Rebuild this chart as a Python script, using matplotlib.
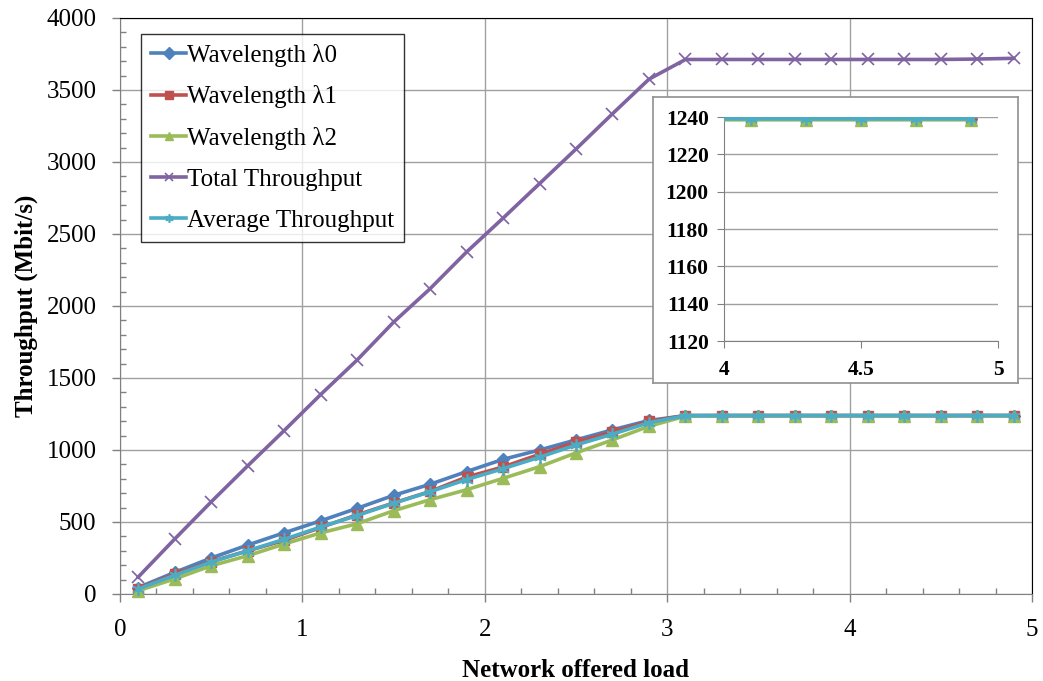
import matplotlib
matplotlib.use("Agg")
import matplotlib.pyplot as plt
from matplotlib.ticker import MultipleLocator

plt.rcParams['font.family'] = ['Liberation Serif', 'DejaVu Serif']

load = [0.1, 0.3, 0.5, 0.7, 0.9, 1.1, 1.3, 1.5, 1.7, 1.9, 2.1, 2.3, 2.5,
        2.7, 2.9, 3.1, 3.3, 3.5, 3.7, 3.9, 4.1, 4.3, 4.5, 4.7, 4.9]
lam0 = [45, 150, 250, 340, 425, 508, 595, 685, 762, 850, 935, 1000, 1070,
        1140, 1205, 1239, 1239, 1239, 1239, 1239, 1239, 1239, 1239, 1239, 1239]
lam1 = [38, 138, 225, 300, 372, 462, 550, 632, 712, 812, 882, 970, 1055,
        1125, 1198, 1239, 1239, 1239, 1239, 1239, 1239, 1239, 1239, 1239.5, 1239]
lam2 = [23, 105, 196, 266, 347, 424, 488, 578, 655, 724, 803, 884, 980,
        1070, 1165, 1235, 1238.5, 1238.5, 1238.5, 1238.5, 1238.5, 1238.5, 1238.5, 1238.5, 1238.5]
avg = [35, 130, 222, 300, 380, 465, 545, 630, 710, 795, 870, 950, 1035,
       1110, 1190, 1238, 1239, 1239, 1239, 1239, 1239, 1239, 1239, 1239, 1239]
total = [118, 382, 640, 890, 1135, 1385, 1625, 1888, 2120, 2375, 2610, 2850, 3090,
         3335, 3575, 3712, 3712, 3712, 3712, 3712, 3712, 3712, 3712, 3715, 3720]

labels = ['Wavelength \u03bb0', 'Wavelength \u03bb1', 'Wavelength \u03bb2',
          'Total Throughput', 'Average Throughput']
colors = ['#4F81BD', '#C0504D', '#9BBB59', '#8064A2', '#4BACC6']
series = [lam0, lam1, lam2, total, avg]
markers = ['D', 's', '^', 'x', (6, 2, 0)]
msizes = [6.5, 7, 8, 9, 9]
mews = [1, 1, 1, 1.2, 1.2]

W, H = 1043, 681
fig = plt.figure(figsize=(W / 100, H / 100), dpi=100)

def fx(p):
    return p / W

def fy(p):
    return 1 - p / H

ax = fig.add_axes([fx(120), fy(594), fx(1032 - 120), (594 - 18) / H])
for s, c, m, ms, mw, lab in zip(series, colors, markers, msizes, mews, labels):
    ax.plot(load, s, color=c, lw=2.6, marker=m, markersize=ms, mew=mw,
            markeredgecolor=c, label=lab, clip_on=False, zorder=3)

ax.set_xlim(0, 5)
ax.set_ylim(0, 4000)
ax.xaxis.set_major_locator(MultipleLocator(1))
ax.xaxis.set_minor_locator(MultipleLocator(0.2))
ax.yaxis.set_major_locator(MultipleLocator(500))
ax.yaxis.set_minor_locator(MultipleLocator(100))
ax.tick_params(axis='both', which='major', direction='out', length=6,
               color='#808080', labelsize=18, width=1)
ax.tick_params(axis='y', which='major', pad=11)
ax.tick_params(axis='x', which='major', pad=12)
ax.tick_params(axis='both', which='minor', direction='in', length=4.5,
               color='#808080', width=1)
ax.grid(True, which='major', color='#A0A0A0', lw=1)
ax.set_axisbelow(True)
ax.spines['top'].set_color('black')
ax.spines['right'].set_color('black')
ax.spines['left'].set_color('#808080')
ax.spines['bottom'].set_color('#808080')
ax.set_xlabel('Network offered load', fontsize=18, fontweight='bold', labelpad=13)
ax.set_ylabel('Throughput (Mbit/s)', fontsize=18, fontweight='bold', labelpad=6)

leg = fig.legend(loc='upper left', bbox_to_anchor=(fx(141), fy(34)),
                 borderaxespad=0, fontsize=18, frameon=True, fancybox=False,
                 edgecolor='black', handlelength=1.4, handletextpad=0.05,
                 labelspacing=0.74, borderpad=0.4)
leg.get_frame().set_linewidth(1.0)
for h in leg.legend_handles:
    h.set_markersize(6)

# inset frame
frame = fig.add_axes([fx(653), fy(383), fx(1018 - 653), (383 - 97) / H])
frame.set_xticks([])
frame.set_yticks([])
frame.set_facecolor('white')
for sp in frame.spines.values():
    sp.set_color('#909090')
    sp.set_linewidth(1.2)
frame.set_zorder(5)

ins = fig.add_axes([fx(724), fy(341), fx(998 - 724), (341 - 117) / H])
ins.set_zorder(6)
ins.set_facecolor('none')
for s, c, m, ms, mw in zip(series, colors, markers, msizes, mews):
    if s is total:
        continue
    ins.plot(load, s, color=c, lw=2.6, marker=m, markersize=ms, mew=mw,
             markeredgecolor=c, clip_on=True, zorder=3)
ins.set_xlim(4, 5)
ins.set_ylim(1120, 1240)
ins.set_xticks([4, 4.5, 5])
ins.set_xticklabels(['4', '4.5', '5'])
ins.set_yticks(range(1120, 1241, 20))
ins.tick_params(direction='out', length=5, color='#808080', labelsize=15.5)
ins.tick_params(axis='y', pad=6)
ins.tick_params(axis='x', pad=9)
for t in ins.get_xticklabels() + ins.get_yticklabels():
    t.set_fontweight('bold')
ins.yaxis.grid(True, color='#A0A0A0', lw=1)
ins.set_axisbelow(True)
ins.spines['top'].set_visible(False)
ins.spines['right'].set_visible(False)
ins.spines['left'].set_color('#808080')
ins.spines['bottom'].set_color('#808080')

fig.savefig('out.png', dpi=100)
